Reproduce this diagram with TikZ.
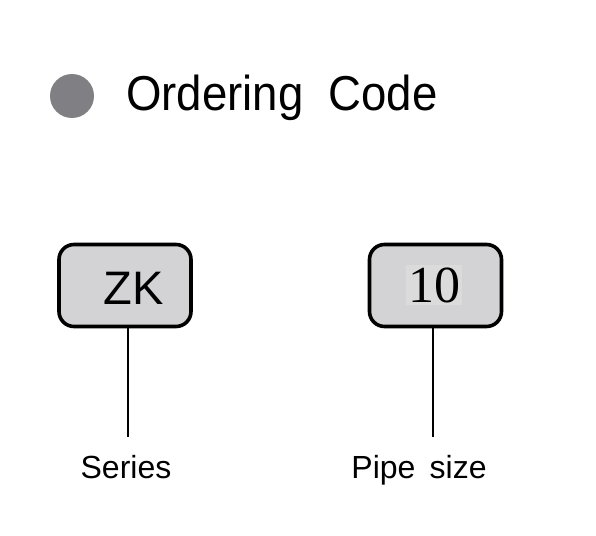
\documentclass[tikz,border=0pt]{standalone}
\usepackage{fontspec}
\setmainfont{Liberation Sans}
\newfontfamily\serifnum{Liberation Serif}
\definecolor{dotgray}{HTML}{808084}
\definecolor{boxgray}{HTML}{D3D3D5}
\definecolor{numgray}{HTML}{DBDBDB}
\begin{document}
\begin{tikzpicture}[x=1pt,y=-1pt,
  codebox/.style={draw=black,line width=3.6pt,rounded corners=15pt,fill=boxgray,minimum width=132pt,minimum height=82pt,inner sep=0pt},
  lead/.style={line width=1.8pt},
  lbl/.style={font=\fontsize{32}{36}\selectfont,inner sep=0pt,anchor=base}]
\useasboundingbox (0,0) rectangle (596,535);
\fill[white] (0,0) rectangle (596,535);
\node[circle,fill=dotgray,minimum size=44pt,inner sep=0pt] (dot) at (72,96) {};
\node[anchor=base west,inner sep=0pt,font=\fontsize{49}{56}\selectfont,xscale=0.93] (title) at (126,110) {Ordering\ \ Code};
\node[codebox] (zk) at (125,285.5) {};
\node[font=\fontsize{47}{52}\selectfont,inner sep=0pt] (zkt) at (134,288) {ZK};
\node[codebox] (ten) at (435.5,285.5) {};
\node[fill=numgray,font=\serifnum\fontsize{52}{56}\selectfont,inner sep=2pt] (tent) at (434,285) {10};
\coordinate (e1) at (128,437);
\coordinate (e2) at (433,437);
\draw[lead] (zk.south -| e1) -- (e1);
\draw[lead] (ten.south -| e2) -- (e2);
\node[lbl] (series) at (126,478) {Series};
\node[lbl] (pipe) at (419,478) {Pipe\ \,size};
\end{tikzpicture}
\end{document}
